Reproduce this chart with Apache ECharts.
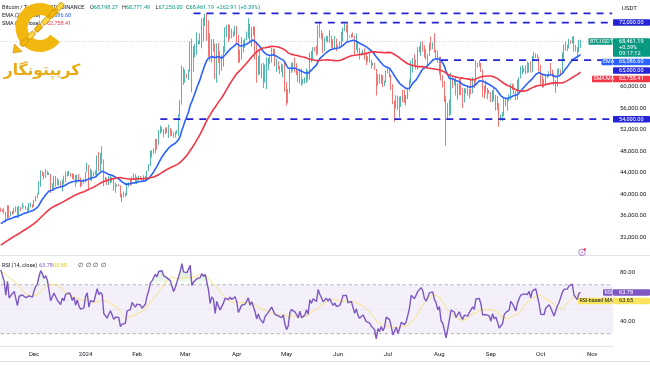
<!DOCTYPE html>
<html><head><meta charset="utf-8">
<script src="https://cdn.jsdelivr.net/npm/echarts@6/dist/echarts.min.js"></script>
<style>html,body{margin:0;padding:0;background:#fff}#c{width:650px;height:365px}</style>
</head><body><div id="c"></div>
<script>
// ---------------- DATA ----------------
const startDate = '2023-11-11';
const totalSlots = 369; // days on the x axis (incl. empty right margin)
// closes before the first visible bar (Sep 22 - Nov 10 2023), used for indicator warm-up
const warmupCloses = [26570,26580,26250,26300,26210,26350,27020,26910,26970,
27990,27500,27430,27790,27410,27930,27960,27950,27590,27390,26870,26760,26860,26860,27160,28520,28420,28330,28720,29680,29920,30000,33090,33900,34500,34160,33900,34090,34540,34500,34670,
35440,34940,34730,35080,35050,35040,35420,35640,36700,37310];
// visible daily closes Nov 11 2023 - Oct 25 2024 (open = previous close)
const closes = [
37130,37060,36500,35540,37880,36160,36600,36570,37360,37450,35750,37420,37290,37720,37790,37450,37240,37820,37850,37710,
38690,39470,39980,41990,44080,43770,43290,44170,43720,43790,41240,41450,42890,43020,41930,42240,41360,42660,42260,43650,43860,43990,43740,43020,43610,42520,43440,42580,42070,42140,42280,
44180,44960,42850,44150,44160,43970,43930,46970,46110,46630,46340,42780,42840,41730,42510,43150,42740,41260,41620,41660,41580,39500,39850,40080,39940,41820,42120,42030,43300,42940,42580,
43080,43190,43000,42580,42660,43090,44340,45290,47130,47750,48290,49960,49700,51820,51930,52160,51660,52120,51780,52270,51850,51320,50730,51570,51730,54480,57080,62500,61170,
62440,62030,63130,68330,63800,66110,66930,68300,68500,69020,72120,71480,73080,71400,69400,65300,68390,67610,61940,67840,65500,63800,64100,67200,69990,69990,69460,70780,69890,69650,71330,
69700,65460,65960,68500,67840,68900,69360,71630,69150,70630,70010,67190,63920,65740,63460,63810,61280,63510,63840,64990,64940,66840,66410,64290,64500,63770,63460,63120,63840,60670,
58250,59120,62890,63890,64030,63160,62330,61190,63050,60790,60820,61480,62940,61580,66270,65230,67050,66940,66280,71450,70140,69120,67930,68530,69270,68510,69390,68360,67630,68350,67490,
67710,67750,68800,70560,71080,70760,69340,69300,69650,69510,67310,68240,66750,66010,66190,66640,66490,65140,64960,64830,64100,64250,63180,60280,61800,60860,61670,60320,60890,62670,
62850,62030,60200,57050,56660,58230,55850,56700,58040,57730,57340,57900,59200,60800,64730,65080,64100,63970,66680,67150,68170,67570,65930,65370,65800,67910,67900,68250,66780,66190,64620,
65350,61500,60680,58120,54020,56040,55130,61690,60880,60940,58710,59350,60600,58740,57560,58870,59490,58430,59490,59030,61160,60380,64090,64180,64250,62830,59420,59030,59370,59120,58970,
57330,59130,57480,57970,56160,53950,54160,54870,57050,57640,57340,58130,60570,60000,59180,58210,60310,61760,62950,63200,63350,63580,63340,64260,63140,65180,65790,65890,65600,63330,
60810,60650,60750,62080,62060,62820,62240,62130,60580,60270,62450,63190,62850,66050,67040,67610,67400,68400,68360,69000,67370,67370,66650,68198.27,68461.19];
const highs = [
37530,37230,37420,36770,37980,37950,36850,36850,37520,37750,37650,37860,37650,38420,37890,37840,37590,38380,38430,38150,
38970,39700,40210,42410,44490,44300,44050,44700,44370,44040,43750,42100,43430,43420,43090,42700,42440,42760,43480,44280,44230,44370,43800,43940,43790,43630,43680,43800,43120,42600,42900,
44200,45880,45500,44770,44500,44230,44500,47250,47890,47700,48970,46500,43250,43080,43400,43580,43200,42930,42200,41870,41900,41670,40150,40530,40280,42200,42250,42840,43330,43880,43750,
43270,43490,43390,43120,43540,43430,44400,45600,48200,48170,48590,50330,50350,52000,52820,52550,52170,52450,52480,52980,52370,52060,51560,51700,51950,54900,57580,64000,63680,
63230,62480,63240,68500,69000,67640,67990,70170,68680,70000,72800,72970,73650,73780,72400,70000,68900,68920,68100,68100,68200,66650,65980,67600,71150,71550,71700,71550,70900,70350,71370,
71340,69700,66920,69300,68700,69050,70300,72800,71750,71160,71300,71260,67940,65820,66880,64370,64500,64200,65500,65450,65700,67250,67200,67100,65300,64800,63900,64340,64200,64700,
60900,59600,63320,64500,64600,65500,64400,62980,63420,63450,61450,61800,63450,63100,66400,66700,67400,67450,67700,71500,71950,70630,70080,69200,69550,69500,70600,69580,68900,69500,69000,
67860,68450,70280,71050,71750,71600,71950,69550,69850,70150,69550,69980,68400,67300,66430,66950,67200,66480,65730,66480,65070,64520,64500,63370,62350,62450,62300,62200,61200,63050,
63850,63300,62300,60500,57500,58450,58400,58200,58300,59450,59500,58500,59850,61400,64900,65400,66100,65100,67400,67600,68400,68500,67800,67100,66100,68250,69400,68300,70000,66950,66800,
65600,65600,62200,61100,58300,57000,57700,62700,61800,61450,61850,60700,61500,61800,59850,59800,59700,60250,59600,61400,61800,61400,64950,64500,65000,64500,63200,60200,61200,59800,59450,
59050,59400,59800,58500,58350,57000,54850,55300,58100,58000,57900,58600,60650,60650,60400,59200,61350,61800,63850,64100,63550,64000,64750,64500,64800,65800,66500,66250,66100,65600,
64150,62400,61450,62450,62350,62950,64450,63200,62500,61300,63400,63450,63250,66450,67900,68400,67900,68950,68700,69400,69500,67850,67450,68800,68771.49];
const lows = [
36720,36750,36340,34800,35360,35520,35880,36200,36390,36700,35630,35670,36870,37250,37600,37150,36720,36880,37570,37500,
37630,38650,39270,39980,41420,43350,42800,43080,43580,43590,40220,40680,40900,41420,41670,41700,41260,40530,41800,42200,43330,43430,43310,42800,42770,41400,42100,42300,41300,41520,41970,
42190,44150,40750,42620,42450,43400,43590,43200,44300,44350,45600,41500,42430,41710,41720,42050,42200,40680,40280,41420,41480,39430,38550,39450,39500,39830,41400,41620,41800,42680,42270,
41880,42550,42880,42220,42300,42570,42770,44300,45250,46850,47560,47700,48300,49270,51300,51590,50600,51200,51420,50520,50790,50900,50520,50560,51280,50900,54450,56700,60380,
60780,61650,61300,62850,59000,62800,65500,66000,67900,68000,67200,68500,71330,68600,65600,64750,64550,66600,61530,60780,64500,62260,63000,63800,66400,69290,68400,68900,69070,69330,69590,
68120,64500,64500,65100,66400,67240,68700,69040,68200,67500,69560,65100,60800,62180,62330,61600,59770,60830,59600,63100,64250,64500,65800,63820,62800,63300,62400,62800,61800,59100,
56550,56950,58800,62600,62900,62700,62200,60880,60650,60200,60500,60630,60750,61100,61350,64600,65100,66600,65850,66100,69170,68850,66300,66650,68500,68250,68250,67280,67150,67150,66670,
67410,67300,67600,68550,70400,70150,68500,69200,69150,69200,66100,66900,66300,65100,65850,66050,65100,64050,64700,64500,63380,63950,63150,58400,60250,60650,60600,60000,60200,60780,
62500,61800,59450,56800,53500,56000,55720,54300,56300,57160,57000,56550,57750,59500,60650,62700,63900,63250,63300,66450,65800,66600,65450,65100,63450,65750,66800,67050,66450,65300,64500,
62300,61200,59900,57200,49000,53950,54600,54800,59800,60300,58400,57650,58500,58450,56100,57100,58780,58400,57850,58600,58800,59800,60350,63600,63800,62800,58100,57850,58800,57700,58750,
57200,57150,57400,55600,55650,52550,53750,53650,54600,56400,55550,57350,57600,59450,58700,57500,57650,59200,61600,62380,62750,62400,62600,62700,62700,62700,64850,65400,65450,62900,
60180,59850,59900,60450,61650,61900,62100,61850,60300,58900,60050,62400,62050,62450,64800,66750,66700,67150,68050,68100,66550,66600,65300,66450,67250];
const priceTicks = [32000,36000,40000,44000,48000,52000,56000,60000];
const rsiTicks = [40, 80];
const levels = [
  {value: 73700, from: '2024-03-06', label: false},
  {value: 72000, from: '2024-05-18', label: true},
  {value: 65000, from: '2024-08-02', label: true},
  {value: 54000, from: '2024-02-15', label: true}
];
const header = {title: 'Bitcoin / TetherUS · 1D · BINANCE', o: '68,198.27', h: '68,771.49', l: '67,250.00', c: '68,461.19', chg: '+262.91', pct: '(+0.39%)'};
const lastPrice = 68461.19, lastPct = '+0.39%', countdown = '09:17:12';
const emaLast = 66086.60, smaLast = 62758.41, rsiLast = 63.78, rsiMaLast = 63.65;
const monthNames = ['Jan','Feb','Mar','Apr','May','Jun','Jul','Aug','Sep','Oct','Nov','Dec'];

// ---------------- BUILD ----------------
const dates = [];
const d0 = Date.parse(startDate + 'T00:00:00Z');
for (let i = 0; i < totalSlots; i++) dates.push(new Date(d0 + i * 86400000).toISOString().slice(0, 10));
const W = warmupCloses.length;
const all = warmupCloses.concat(closes);
const candles = closes.map((c, i) => {
  const o = all[W + i - 1];
  return [o, c, Math.min(lows[i], o, c), Math.max(highs[i], o, c)];
});
function ema(src, n) {
  const out = new Array(src.length).fill(null); let s = 0;
  for (let i = 0; i < n; i++) s += src[i];
  let e = s / n; out[n - 1] = e; const a = 2 / (n + 1);
  for (let i = n; i < src.length; i++) { e = a * src[i] + (1 - a) * e; out[i] = e; }
  return out;
}
function sma(src, n) {
  const out = new Array(src.length).fill(null);
  for (let i = 0; i < src.length; i++) {
    if (i < n - 1) continue; let s = 0, ok = true;
    for (let j = i - n + 1; j <= i; j++) { if (src[j] == null) { ok = false; break; } s += src[j]; }
    if (ok) out[i] = s / n;
  }
  return out;
}
function rsiCalc(src, n) {
  const out = new Array(src.length).fill(null); let g = 0, l = 0;
  for (let i = 1; i <= n; i++) { const ch = src[i] - src[i - 1]; if (ch > 0) g += ch; else l -= ch; }
  g /= n; l /= n; out[n] = 100 - 100 / (1 + g / l);
  for (let i = n + 1; i < src.length; i++) {
    const ch = src[i] - src[i - 1];
    g = (g * (n - 1) + Math.max(ch, 0)) / n; l = (l * (n - 1) + Math.max(-ch, 0)) / n;
    out[i] = l === 0 ? 100 : 100 - 100 / (1 + g / l);
  }
  return out;
}
const emaVis = ema(all, 20).slice(W);
const smaVis = sma(all, 50).slice(W);
const rsiAll = rsiCalc(all, 14);
const rsiVis = rsiAll.slice(W);
const rsiMaVis = sma(rsiAll, 14).slice(W);
const fmt = v => v.toLocaleString('en-US', {minimumFractionDigits: 2, maximumFractionDigits: 2});

const FONT = 'Roboto';
const TXT = '#131722';
const LVL = '#2424d6';
const UP = '#26a69a', DN = '#ef5350';
const lastCat = dates[totalSlots - 1];

const series = [
  {type: 'candlestick', xAxisIndex: 0, yAxisIndex: 0, data: candles, barWidth: '68%',
   itemStyle: {color: UP, color0: DN, borderColor: UP, borderColor0: DN, borderWidth: 0.8}},
  {type: 'line', xAxisIndex: 0, yAxisIndex: 0, data: emaVis, showSymbol: false, symbol: 'none',
   lineStyle: {color: '#2962ff', width: 1.6}},
  {type: 'line', xAxisIndex: 0, yAxisIndex: 0, data: smaVis, showSymbol: false, symbol: 'none',
   lineStyle: {color: '#f23645', width: 1.6}},
  {type: 'line', xAxisIndex: 0, yAxisIndex: 0, data: [[dates[0], lastPrice], [lastCat, lastPrice]], symbol: 'none',
   lineStyle: {color: '#9598a1', width: 0.7, type: [1, 2], opacity: 0.8}, z: 1}
];
levels.forEach(lv => series.push({type: 'line', xAxisIndex: 0, yAxisIndex: 0, symbol: 'none',
  data: [[lv.from, lv.value], [lastCat, lv.value]], lineStyle: {color: LVL, width: 1.8, type: [7, 6]}, z: 5}));
series.push(
  {type: 'line', xAxisIndex: 1, yAxisIndex: 1, symbol: 'none', data: rsiVis.map(v => v > 70 ? v : 70),
   lineStyle: {opacity: 0}, areaStyle: {origin: 70, color: new echarts.graphic.LinearGradient(0, 0, 0, 1,
     [{offset: 0, color: 'rgba(76,175,80,0.45)'}, {offset: 1, color: 'rgba(76,175,80,0.05)'}])}},
  {type: 'line', xAxisIndex: 1, yAxisIndex: 1, symbol: 'none', data: rsiVis.map(v => v < 30 ? v : 30),
   lineStyle: {opacity: 0}, areaStyle: {origin: 30, color: 'rgba(242,54,69,0.25)'}},
  {type: 'line', xAxisIndex: 1, yAxisIndex: 1, symbol: 'none', data: [[dates[0], 70], [lastCat, 70]],
   lineStyle: {color: '#9e9ea6', width: 0.8, type: [3, 3]}},
  {type: 'line', xAxisIndex: 1, yAxisIndex: 1, symbol: 'none', data: [[dates[0], 50], [lastCat, 50]],
   lineStyle: {color: '#c4c4cc', width: 0.6, type: [1, 3]}},
  {type: 'line', xAxisIndex: 1, yAxisIndex: 1, symbol: 'none', data: [[dates[0], 30], [lastCat, 30]],
   lineStyle: {color: '#9e9ea6', width: 0.8, type: [3, 3]}},
  {type: 'line', xAxisIndex: 1, yAxisIndex: 1, data: rsiMaVis, symbol: 'none',
   lineStyle: {color: '#f9e27a', width: 1}},
  {type: 'line', xAxisIndex: 1, yAxisIndex: 1, data: rsiVis, symbol: 'none', z: 4,
   lineStyle: {color: '#7e57c2', width: 1.4},
   markArea: {silent: true, itemStyle: {color: 'rgba(126,87,194,0.09)'}, data: [[{yAxis: 70}, {yAxis: 30}]]}}
);

const option = {
  animation: false,
  backgroundColor: '#ffffff',
  textStyle: {fontFamily: FONT},
  grid: [
    {left: 0, right: 37, top: 0, height: 255},
    {left: 0, right: 37, top: 256, height: 90}
  ],
  xAxis: [
    {type: 'category', gridIndex: 0, data: dates, boundaryGap: true,
     axisLine: {show: false}, axisTick: {show: false}, axisLabel: {show: false}, splitLine: {show: false}},
    {type: 'category', gridIndex: 1, data: dates, boundaryGap: true,
     axisLine: {show: true, lineStyle: {color: '#e0e3eb', width: 1}}, axisTick: {show: false},
     axisLabel: {show: true, fontSize: 6, color: TXT, margin: 5, fontFamily: FONT,
       interval: (idx, val) => val.slice(8) === '01',
       formatter: val => { const m = +val.slice(5, 7); return m === 1 ? val.slice(0, 4) : monthNames[m - 1]; }},
     splitLine: {show: false}}
  ],
  yAxis: [
    {type: 'value', gridIndex: 0, position: 'right', min: 28700, max: 76200, scale: true,
     axisLine: {show: false}, axisTick: {show: false}, splitLine: {show: false},
     axisLabel: {customValues: priceTicks, fontSize: 6, color: TXT, margin: 7, fontFamily: FONT, formatter: v => fmt(v)}},
    {type: 'value', gridIndex: 1, position: 'right', min: 20, max: 93.5,
     axisLine: {show: false}, axisTick: {show: false}, splitLine: {show: false},
     axisLabel: {customValues: rsiTicks, fontSize: 6, color: TXT, margin: 7, fontFamily: FONT, formatter: v => v.toFixed(2)}}
  ],
  series: series
};

const chart = echarts.init(document.getElementById('c'), null, {renderer: 'canvas'});
chart.setOption(option);

// ---------------- OVERLAYS ----------------
const g = [];
function txt(x, y, text, fill, size, extra) {
  g.push(Object.assign({type: 'text', x: x, y: y, z: 100,
    style: {text: text, fill: fill, fontSize: size || 5.5, fontFamily: FONT, textAlign: 'left', textVerticalAlign: 'middle'}}, extra || {}));
}
function box(x, y, w, h, fill) {
  g.push({type: 'rect', z: 99, shape: {x: x, y: y, width: w, height: h, r: 0.8}, style: {fill: fill}});
}
// separators
[[255.5], [361.5]].forEach(a => g.push({type: 'line', z: 50, shape: {x1: 0, y1: a[0], x2: 650, y2: a[0]}, style: {stroke: '#e0e3eb', lineWidth: 1}}));

// header
const GV = '#089981';
txt(2, 7.3, header.title, TXT);
[[90, 'O', header.o], [122, 'H', header.h], [155.5, 'L', header.l], [186, 'C', header.c]].forEach(p => {
  g.push({type: 'text', x: p[0], y: 7.3, z: 100, style: {text: '{k|' + p[1] + '}{v|' + p[2] + '}', fontSize: 5.5, fontFamily: FONT,
    textVerticalAlign: 'middle', rich: {k: {fill: TXT, fontSize: 5.5, fontFamily: FONT}, v: {fill: GV, fontSize: 5.5, fontFamily: FONT}}}});
});
txt(216.5, 7.3, header.chg, GV);
txt(238.5, 7.3, header.pct, GV);
txt(2, 15.7, 'EMA (20, close)', TXT);
txt(47, 15.7, fmt(emaLast), '#2962ff');
txt(2, 24, 'SMA (50, close)', TXT);
txt(47, 24, fmt(smaLast), '#f23645');
txt(2, 266, 'RSI (14, close)', TXT);
txt(39, 266, rsiLast.toFixed(2), '#7e57c2');
txt(53, 266, rsiMaLast.toFixed(2), '#e6c800');
txt(78, 266, '∅  ∅  ∅  ∅', TXT);
txt(622, 8, 'USDT', TXT, 6);

// right scale boxes with simple collision avoidance
function placeBoxes(list, axisIdx) {
  list.forEach(b => { b.y = chart.convertToPixel({yAxisIndex: axisIdx}, b.v); b.hh = b.lines.length === 1 ? 6.5 : 18.5; b.top = b.y - 3.25; });
  list.sort((a, b) => a.y - b.y);
  let prev = -1e9;
  list.forEach(b => { if (b.top < prev + 2) b.top = prev + 2; prev = b.top + b.hh; });
  list.forEach(b => {
    box(613, b.top, 37, b.hh, b.color);
    b.lines.forEach((t, k) => txt(619, b.top + 3.25 + k * 5.9, t, b.tcolor || '#fff', 5.6));
    if (b.tag) {
      const tw = b.tagW;
      box(613 - tw, b.top, tw - 0.5, 6.5, b.color);
      txt(613 - tw + 1.5, b.top + 3.25, b.tag, b.tcolor || '#fff', 5.3);
    }
  });
}
const mainBoxes = levels.filter(l => l.label).map(l => ({v: l.value, color: LVL, lines: [fmt(l.value)]}));
mainBoxes.push({v: lastPrice, color: GV, lines: [fmt(lastPrice), lastPct, countdown], tag: 'BTCUSDT', tagW: 24.5});
mainBoxes.push({v: emaLast, color: '#2962ff', lines: [fmt(emaLast)], tag: 'EMA', tagW: 11.5});
mainBoxes.push({v: smaLast, color: '#f23645', lines: [fmt(smaLast)], tag: 'SMA:MA', tagW: 21});
placeBoxes(mainBoxes, 0);
placeBoxes([
  {v: rsiLast, color: '#7e57c2', lines: [rsiLast.toFixed(2)], tag: 'RSI', tagW: 10},
  {v: rsiMaLast, color: '#f9e45b', tcolor: TXT, lines: [rsiMaLast.toFixed(2)], tag: 'RSI-based MA', tagW: 35}
], 1);

// small alert icon
g.push({type: 'circle', z: 100, shape: {cx: 582, cy: 252.3, r: 3.3}, style: {fill: '#fff', stroke: '#a064c8', lineWidth: 0.8}});
g.push({type: 'polyline', z: 101, shape: {points: [[583, 250.3], [581.2, 252.6], [582.8, 252.4], [581, 254.5]]}, style: {stroke: '#a064c8', lineWidth: 0.6, fill: null}});
g.push({type: 'circle', z: 102, shape: {cx: 584.8, cy: 249.4, r: 1.2}, style: {fill: '#f23645'}});

// logo
const GOLD = '#f2b80f', GOLD_D = '#c48a00';
g.push({type: 'arc', z: 110, shape: {cx: 40, cy: 27.5, r: 18.5, startAngle: 0.62, endAngle: 5.62, clockwise: true},
  style: {stroke: GOLD, lineWidth: 12, fill: null, lineCap: 'butt'}});
for (let k = 0; k < 6; k++) {
  const cx = 60 - k * 7.2, cy = 6.5 + k * 7.2;
  g.push({type: 'rect', z: 111, x: cx, y: cy, rotation: Math.PI / 4, originX: 0, originY: 0,
    shape: {x: -4.2, y: -2.4, width: 8.4, height: 4.8, r: 1.6},
    style: {fill: k % 2 ? GOLD : '#ffd84a', stroke: GOLD_D, lineWidth: 0.8}});
}
g.push({type: 'polygon', z: 111, shape: {points: [[13, 53], [14.5, 44], [22, 51.5]]}, style: {fill: GOLD, stroke: GOLD_D, lineWidth: 0.6}});
g.push({type: 'text', z: 112, x: 42, y: 71, style: {text: 'کریپتونگار', fill: '#e9ab12', fontSize: 15.5, fontWeight: 'bold',
  fontFamily: 'DejaVu Sans', textAlign: 'center', textVerticalAlign: 'middle'}});

chart.setOption({graphic: g});
</script>
</body></html>
